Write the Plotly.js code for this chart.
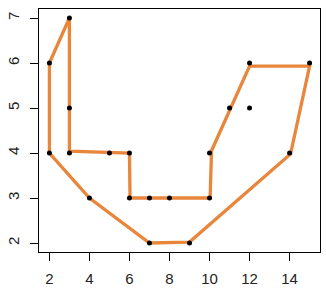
<!DOCTYPE html>
<html><head><meta charset="utf-8">
<script src="https://cdn.plot.ly/plotly-3.0.1.min.js"></script>
<style>html,body{margin:0;padding:0;background:#fff}</style>
</head><body><div id="chart" style="width:326px;height:295px"></div>
<script>
// observed points
var pointX = [2, 3, 3, 2, 3, 5, 6, 4, 6, 7, 8, 10, 7, 9, 10, 11, 12, 12, 15, 14];
var pointY = [6, 7, 5, 4, 4, 4, 4, 3, 3, 3, 3, 3, 2, 2, 4, 5, 5, 6, 6, 4];
// orange hull outline as drawn
var hullX = [2, 3, 3, 6, 6.03, 10.03, 10.1, 12, 15, 14.05, 9, 7, 4, 2, 2];
var hullY = [6, 7, 4.04, 4, 3, 3, 4.05, 5.93, 5.93, 3.98, 2.02, 2, 3, 4, 6];
var xTicks = [2, 4, 6, 8, 10, 12, 14];
var yTicks = [2, 3, 4, 5, 6, 7];

var traces = [
  {x: hullX, y: hullY, type: 'scatter', mode: 'lines',
   line: {color: 'rgb(232,134,60)', width: 3.3}, hoverinfo: 'skip'},
  {x: pointX, y: pointY, type: 'scatter', mode: 'markers',
   marker: {color: '#000', size: 5}}
];
var axisCommon = {
  showgrid: false, zeroline: false, showline: true, linecolor: '#000', linewidth: 1,
  mirror: true, ticks: 'outside', ticklen: 8, tickcolor: '#000', tickwidth: 1,
  tickfont: {family: 'Liberation Sans, Arial, sans-serif', size: 15, color: '#222'}
};
var layout = {
  width: 326, height: 295, showlegend: false,
  paper_bgcolor: '#fff', plot_bgcolor: '#fff',
  margin: {l: 39, r: 6, t: 9, b: 43},
  xaxis: Object.assign({}, axisCommon, {range: [1.48, 15.52], tickvals: xTicks, ticktext: xTicks.map(String), ticklabelstandoff: 5}),
  yaxis: Object.assign({}, axisCommon, {range: [1.8, 7.2], tickvals: yTicks, ticktext: yTicks.map(String), tickangle: -90, ticklabelstandoff: 5})
};
Plotly.newPlot('chart', traces, layout, {displayModeBar: false, staticPlot: true});
</script></body></html>
